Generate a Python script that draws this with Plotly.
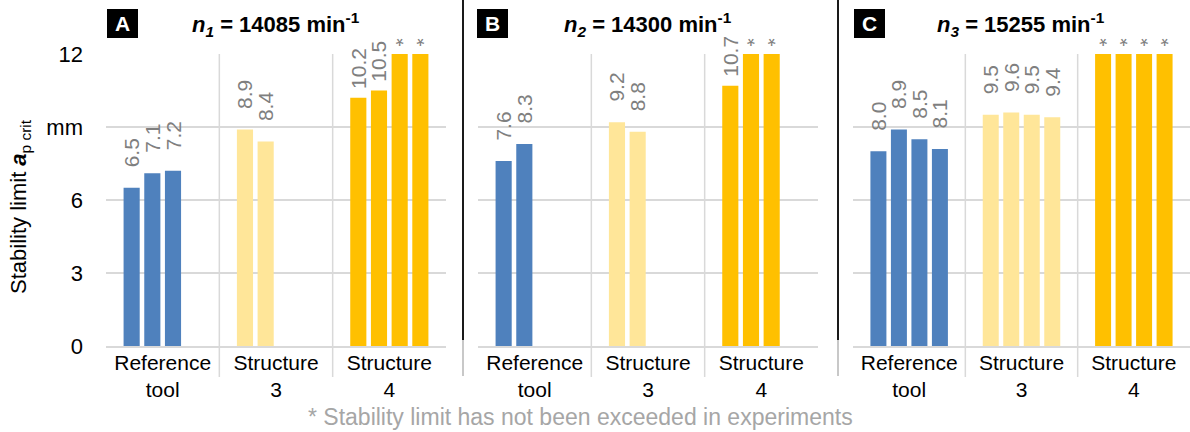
import plotly.graph_objects as go

# ---------------- data ----------------
CATEGORIES = ["Reference<br>tool", "Structure<br>3", "Structure<br>4"]
CATEGORY_COLORS = ["#4F81BD", "#FFE699", "#FFC000"]

PANEL_LETTERS = ["A", "B", "C"]
PANEL_TITLES = [
    "<b><i>n</i><sub><i>1</i></sub> = 14085 min<sup>-1</sup></b>",
    "<b><i>n</i><sub><i>2</i></sub> = 14300 min<sup>-1</sup></b>",
    "<b><i>n</i><sub><i>3</i></sub> = 15255 min<sup>-1</sup></b>",
]

# Panel A  (n1 = 14085 1/min)
A_REFERENCE = [6.5, 7.1, 7.2]
A_STRUCTURE_3 = [8.9, 8.4]
A_STRUCTURE_4 = [10.2, 10.5, 12.0, 12.0]
A_REFERENCE_NOT_EXCEEDED = [False, False, False]
A_STRUCTURE_3_NOT_EXCEEDED = [False, False]
A_STRUCTURE_4_NOT_EXCEEDED = [False, False, True, True]

# Panel B  (n2 = 14300 1/min)
B_REFERENCE = [7.6, 8.3]
B_STRUCTURE_3 = [9.2, 8.8]
B_STRUCTURE_4 = [10.7, 12.0, 12.0]
B_REFERENCE_NOT_EXCEEDED = [False, False]
B_STRUCTURE_3_NOT_EXCEEDED = [False, False]
B_STRUCTURE_4_NOT_EXCEEDED = [False, True, True]

# Panel C  (n3 = 15255 1/min)
C_REFERENCE = [8.0, 8.9, 8.5, 8.1]
C_STRUCTURE_3 = [9.5, 9.6, 9.5, 9.4]
C_STRUCTURE_4 = [12.0, 12.0, 12.0, 12.0]
C_REFERENCE_NOT_EXCEEDED = [False, False, False, False]
C_STRUCTURE_3_NOT_EXCEEDED = [False, False, False, False]
C_STRUCTURE_4_NOT_EXCEEDED = [True, True, True, True]

Y_TICK_VALUES = [0, 3, 6, 9, 12]
Y_TICK_TEXT = ["0", "3", "6", "mm", "12"]
Y_RANGE = [0, 12]

Y_TITLE = "Stability limit <b><i>a</i></b><sub>p crit</sub>"
FOOTNOTE = "* Stability limit has not been exceeded in experiments"
STAR = "*"

PANELS = [
    ([A_REFERENCE, A_STRUCTURE_3, A_STRUCTURE_4],
     [A_REFERENCE_NOT_EXCEEDED, A_STRUCTURE_3_NOT_EXCEEDED, A_STRUCTURE_4_NOT_EXCEEDED]),
    ([B_REFERENCE, B_STRUCTURE_3, B_STRUCTURE_4],
     [B_REFERENCE_NOT_EXCEEDED, B_STRUCTURE_3_NOT_EXCEEDED, B_STRUCTURE_4_NOT_EXCEEDED]),
    ([C_REFERENCE, C_STRUCTURE_3, C_STRUCTURE_4],
     [C_REFERENCE_NOT_EXCEEDED, C_STRUCTURE_3_NOT_EXCEEDED, C_STRUCTURE_4_NOT_EXCEEDED]),
]
N_SLOTS = 4

# ---------------- style / layout ----------------
W, H = 1190, 432
FONT = "Arial, Liberation Sans, sans-serif"
GRID = "#D9D9D9"
LABEL_GRAY = "#7F7F7F"
NBSP = "\u00a0"

PANEL_X_PX = [(106, 446), (478, 818), (853, 1190)]
PLOT_TOP_PX, PLOT_BOTTOM_PX = 54, 346
SEP_BOTTOM_PX = 377
PANEL_DIVIDERS_PX = [463, 838]
LETTER_BOX_X_PX = [122.5, 492.5, 869.5]


def px_x(p):
    return p / W


def px_y(p):
    return 1 - p / H


def label_text(v):
    # Excel keeps the rotated labels inside the chart area: high values get less padding
    pad = NBSP * (3 if v < 10 else 1)
    return pad + f"{v:.1f}"


fig = go.Figure()

for pi, (series, flags) in enumerate(PANELS):
    xa = "x" if pi == 0 else f"x{pi + 1}"
    ya = "y" if pi == 0 else f"y{pi + 1}"
    for slot in range(N_SLOTS):
        num_y, num_text, star_y, star_text = [], [], [], []
        for ci, (vals, fl) in enumerate(zip(series, flags)):
            if slot < len(vals):
                v = vals[slot]
                if fl[slot]:
                    num_y.append(None); num_text.append(None)
                    star_y.append(v); star_text.append(STAR)
                else:
                    num_y.append(v); num_text.append(label_text(v))
                    star_y.append(None); star_text.append(None)
            else:
                num_y.append(None); num_text.append(None)
                star_y.append(None); star_text.append(None)
        common = dict(
            x=CATEGORIES, xaxis=xa, yaxis=ya, offsetgroup=str(slot),
            marker=dict(color=CATEGORY_COLORS, line=dict(width=0)),
            textposition="outside", constraintext="none", cliponaxis=False,
            showlegend=False, hoverinfo="skip",
            textfont=dict(family=FONT, size=21, color=LABEL_GRAY),
        )
        fig.add_trace(go.Bar(y=num_y, text=num_text, textangle=-90, **common))
        fig.add_trace(go.Bar(y=star_y, text=star_text, textangle=180, **common))

layout = dict(
    template="none",
    width=W, height=H, autosize=False,
    margin=dict(l=0, r=0, t=0, b=0, pad=0),
    paper_bgcolor="white", plot_bgcolor="white",
    barmode="group", bargap=0.27, bargroupgap=0.22,
    font=dict(family=FONT, color="black"),
    showlegend=False,
)

shapes = []
annotations = []
for pi in range(3):
    suffix = "" if pi == 0 else str(pi + 1)
    x0, x1 = PANEL_X_PX[pi]
    layout["xaxis" + suffix] = dict(
        domain=[px_x(x0), px_x(x1)], anchor="y" + suffix, automargin=False,
        type="category", categoryorder="array", categoryarray=CATEGORIES,
        range=[-0.5, 2.5], showgrid=False, zeroline=False,
        showline=True, linecolor=GRID, linewidth=1.5, ticks="",
        ticklabelstandoff=-3,
        tickfont=dict(family=FONT, size=21, color="black"),
        fixedrange=True,
    )
    layout["yaxis" + suffix] = dict(
        domain=[px_y(PLOT_BOTTOM_PX), px_y(PLOT_TOP_PX)], anchor="x" + suffix,
        automargin=False,
        range=Y_RANGE, tickvals=Y_TICK_VALUES, ticktext=Y_TICK_TEXT,
        showticklabels=(pi == 0), showgrid=True, gridcolor=GRID, gridwidth=1.5,
        zeroline=False, showline=False, ticks="", ticklabelstandoff=22,
        tickfont=dict(family=FONT, size=22, color="black"),
        fixedrange=True,
    )
    # category separators
    for b in (0.5, 1.5):
        shapes.append(dict(type="line", xref="x" + suffix, yref="paper",
                           x0=b, x1=b, y0=px_y(SEP_BOTTOM_PX), y1=px_y(PLOT_TOP_PX),
                           line=dict(color=GRID, width=1.5), layer="below"))
    # letter box
    annotations.append(dict(
        text=f"<b>{PANEL_LETTERS[pi]}</b>", xref="paper", yref="paper",
        x=px_x(LETTER_BOX_X_PX[pi]), y=px_y(23.5), xanchor="center", yanchor="middle",
        showarrow=False, bgcolor="black", width=31, height=29, borderpad=0, borderwidth=0,
        font=dict(family=FONT, size=21, color="white"),
    ))
    # panel title
    annotations.append(dict(
        text=PANEL_TITLES[pi], xref="paper", yref="paper",
        x=px_x((x0 + x1) / 2), y=px_y(24), xanchor="center", yanchor="middle",
        showarrow=False, font=dict(family=FONT, size=22, color="black"),
    ))

for xd in PANEL_DIVIDERS_PX:
    shapes.append(dict(type="line", xref="paper", yref="paper",
                       x0=px_x(xd), x1=px_x(xd), y0=px_y(340), y1=1,
                       line=dict(color="#1A1A1A", width=2)))
    shapes.append(dict(type="line", xref="paper", yref="paper",
                       x0=px_x(xd), x1=px_x(xd), y0=px_y(376), y1=px_y(340),
                       line=dict(color="#C8C8C8", width=2)))

annotations.append(dict(
    text=Y_TITLE, xref="paper", yref="paper", x=px_x(20), y=px_y(207),
    xanchor="center", yanchor="middle", textangle=-90, showarrow=False,
    font=dict(family=FONT, size=22, color="black"),
))
annotations.append(dict(
    text=FOOTNOTE, xref="paper", yref="paper", x=px_x(580), y=px_y(417),
    xanchor="center", yanchor="middle", showarrow=False,
    font=dict(family=FONT, size=23, color="#A6A6A6"),
))

layout["shapes"] = shapes
layout["annotations"] = annotations
fig.update_layout(**layout)

fig.write_html(
    "out.html",
    config={"displayModeBar": False, "staticPlot": True},
    post_script="document.body.style.margin='0';",
)
